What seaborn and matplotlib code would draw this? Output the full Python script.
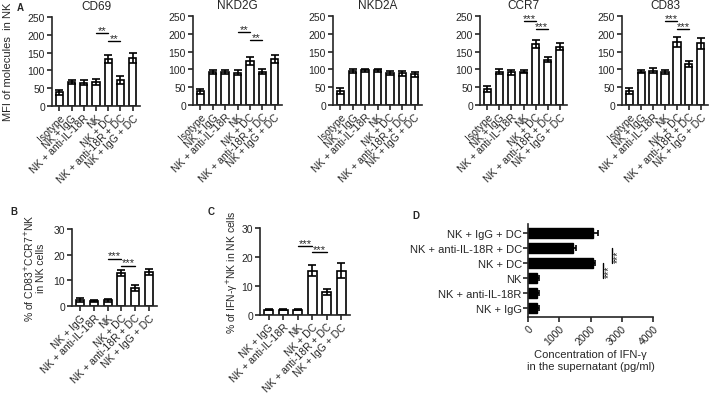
import numpy as np
import seaborn as sns
import matplotlib.pyplot as plt

# ---- data ----
groups_a = ["Isotype", "NK + IgG", "NK + anti-IL-18R", "NK", "NK + DC",
            "NK + anti-18R + DC", "NK + IgG + DC"]
markers = ["CD69", "NKD2G", "NKD2A", "CCR7", "CD83"]
cd69_mean = [38, 68, 65, 68, 132, 73, 135]
cd69_err = [6, 6, 7, 9, 12, 11, 15]
nkd2g_mean = [38, 93, 93, 91, 123, 94, 130]
nkd2g_err = [8, 6, 6, 7, 12, 8, 11]
nkd2a_mean = [40, 96, 97, 97, 90, 89, 86]
nkd2a_err = [8, 5, 3, 3, 6, 7, 7]
ccr7_mean = [44, 93, 92, 93, 172, 127, 164]
ccr7_err = [8, 7, 7, 4, 11, 7, 9]
cd83_mean = [40, 93, 96, 93, 177, 115, 173]
cd83_err = [9, 4, 7, 5, 13, 9, 15]
sig_a = ["**", "**", None, "***", "***"]

groups_bc = ["NK + IgG", "NK + anti-IL-18R", "NK", "NK + DC",
             "NK + anti-18R + DC", "NK + IgG + DC"]
dp_mean = [2.3, 1.8, 2.2, 13.0, 7.0, 13.2]
dp_err = [0.7, 0.4, 0.6, 1.2, 1.0, 1.3]
ifn_pct_mean = [1.8, 1.8, 1.8, 15.3, 8.0, 15.3]
ifn_pct_err = [0.2, 0.2, 0.2, 2.0, 1.0, 2.5]

groups_d = ["NK + IgG + DC", "NK + anti-IL-18R + DC", "NK + DC", "NK",
            "NK + anti-IL-18R", "NK + IgG"]
ifn_conc = [2080, 1440, 2080, 280, 280, 280]
ifn_conc_err = [160, 80, 70, 60, 60, 60]

sns.set_style("ticks")
plt.rcParams['font.family'] = ['Liberation Sans', 'DejaVu Sans']
plt.rcParams['axes.linewidth'] = 1.2
plt.rcParams['xtick.major.width'] = 1.2
plt.rcParams['ytick.major.width'] = 1.2
plt.rcParams['xtick.major.size'] = 3.5
plt.rcParams['ytick.major.size'] = 3.5

W, H = 709, 402
fig = plt.figure(figsize=(W / 100, H / 100), dpi=100)


def add_ax(x0, y0, x1, y1):
    return fig.add_axes([x0 / W, 1 - y1 / H, (x1 - x0) / W, (y1 - y0) / H])


def bar_panel(ax, labels, mean, err, ymax, step):
    sns.barplot(x=labels, y=mean, ax=ax, color="white", edgecolor="black",
                linewidth=1.2, width=0.6, errorbar=None)
    ax.errorbar(np.arange(len(mean)), mean, yerr=err, fmt="none", ecolor="black",
                elinewidth=1.2, capsize=3, capthick=1.2)
    ax.set_ylim(0, ymax)
    ax.set_xlim(-0.6, len(mean) - 0.4)
    ax.set_yticks(np.arange(0, ymax + 1, step))
    ax.tick_params(axis="y", labelsize=7.5, pad=1.5)
    ax.tick_params(axis="x", labelsize=7.5, pad=1)
    ax.set_xticks(np.arange(len(labels)))
    ax.set_xticklabels(labels, rotation=45, ha="right", rotation_mode="anchor")
    sns.despine(ax=ax)


def sig(ax, i, j, y, text):
    ax.plot([i, j], [y, y], color="black", lw=1, clip_on=False)
    ax.text((i + j) / 2, y * 0.975, text, ha="center", va="bottom", fontsize=8,
            clip_on=False)


# ---- panel A ----
a_means = [cd69_mean, nkd2g_mean, nkd2a_mean, ccr7_mean, cd83_mean]
a_errs = [cd69_err, nkd2g_err, nkd2a_err, ccr7_err, cd83_err]
a_boxes = [(52, 18, 140, 107), (193, 17, 282, 106), (333, 17, 422, 106),
           (480, 17, 567, 106), (622, 17, 708, 106)]
for name, mean, err, box, s in zip(markers, a_means, a_errs, a_boxes, sig_a):
    ax = add_ax(*box)
    bar_panel(ax, groups_a, mean, err, 250, 50)
    ax.set_title(name, fontsize=8.5, pad=6)
    if s == "**":
        sig(ax, 3, 4, 205, s)
        sig(ax, 4, 5, 182, s)
    elif s == "***":
        sig(ax, 3, 4, 236, s)
        sig(ax, 4, 5, 213, s)

fig.text(8 / W, 1 - 62 / H, "MFI of molecules  in NK", rotation=90,
         ha="center", va="center", fontsize=8)
fig.text(17 / W, 1 - 3 / H, "A", fontsize=7, fontweight="bold", va="top")

# ---- panel B ----
ax = add_ax(72, 230, 157, 307)
bar_panel(ax, groups_bc, dp_mean, dp_err, 30, 10)
sig(ax, 2, 3, 18.3, "***")
sig(ax, 3, 4, 15.6, "***")
ax.set_ylabel("% of CD83$^{+}$CCR7$^{+}$NK\nin NK cells", fontsize=7.5,
              labelpad=5, linespacing=1.1)
fig.text(10 / W, 1 - 207 / H, "B", fontsize=7, fontweight="bold", va="top")

# ---- panel C ----
ax = add_ax(260, 229, 350, 316)
bar_panel(ax, groups_bc, ifn_pct_mean, ifn_pct_err, 30, 10)
sig(ax, 2, 3, 23.8, "***")
sig(ax, 3, 4, 21.7, "***")
ax.set_ylabel("% of IFN-γ$^{+}$NK in NK cells", fontsize=7.5, labelpad=1)
fig.text(208 / W, 1 - 207 / H, "C", fontsize=7, fontweight="bold", va="top")

# ---- panel D ----
ax = add_ax(528, 225, 653, 318)
sns.barplot(x=ifn_conc, y=groups_d, orient="h", ax=ax, color="black",
            edgecolor="black", width=0.65, errorbar=None)
ax.errorbar(ifn_conc, np.arange(len(ifn_conc)), xerr=ifn_conc_err, fmt="none",
            ecolor="black", elinewidth=1.2, capsize=2.5, capthick=1.2)
ax.set_xlim(0, 4000)
ax.set_ylim(5.6, -0.6)
ax.set_xticks(np.arange(0, 4001, 1000))
ax.tick_params(axis="x", labelsize=7.5, pad=1)
ax.tick_params(axis="y", labelsize=8, pad=1)
for t in ax.get_xticklabels():
    t.set_rotation(45)
    t.set_ha("right")
    t.set_rotation_mode("anchor")
sns.despine(ax=ax)
for x, (i, j) in [(2400, (2, 3)), (2690, (1, 2))]:
    ax.plot([x, x], [i, j], color="black", lw=1)
    ax.text(x + 30, (i + j) / 2, "***", rotation=90, ha="left", va="center",
            fontsize=7.5)
ax.set_xlabel("Concentration of IFN-γ\nin the supernatant (pg/ml)", fontsize=8,
              labelpad=2)
fig.text(412 / W, 1 - 211 / H, "D", fontsize=7, fontweight="bold", va="top")

fig.savefig("out.png", dpi=100)
